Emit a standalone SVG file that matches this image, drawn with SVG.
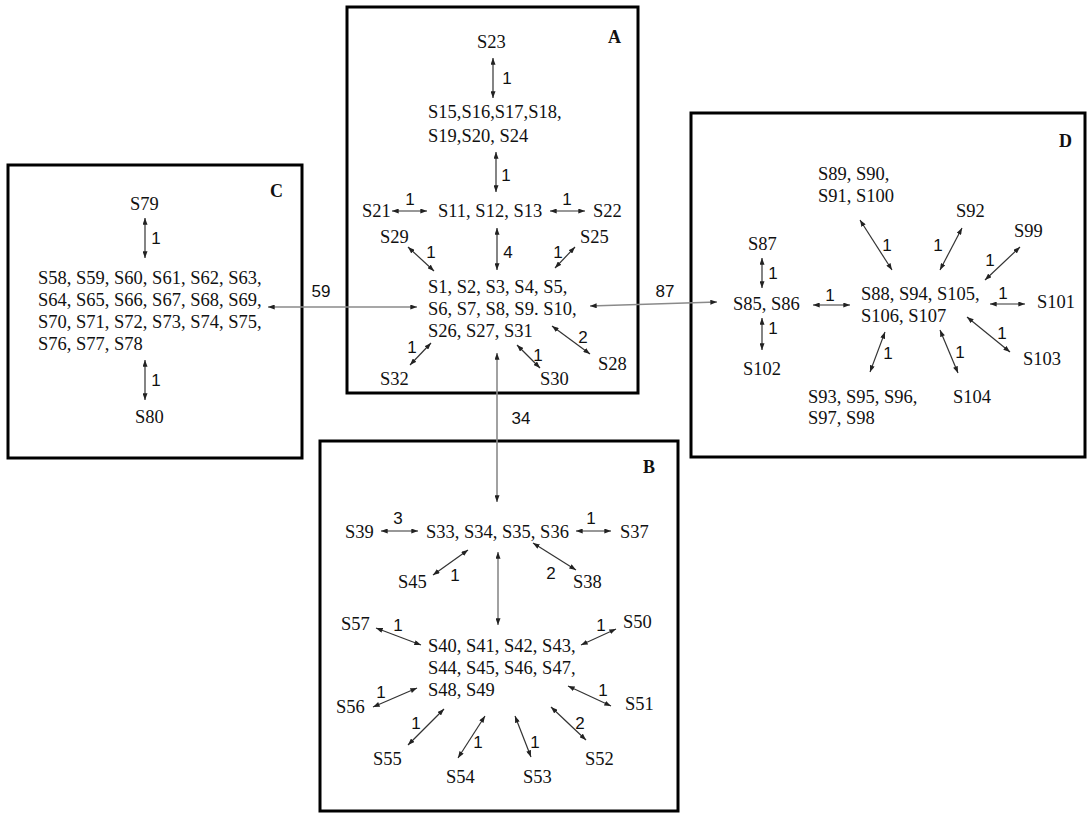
<svg xmlns="http://www.w3.org/2000/svg" width="1089" height="814" viewBox="0 0 1089 814">
<style>
.n{font-family:"Liberation Serif",serif;font-size:18.5px;fill:#111}
.t{font-family:"Liberation Serif",serif;font-size:18px;font-weight:bold;fill:#111}
.w{font-family:"Liberation Sans",sans-serif;font-size:17px;fill:#111;text-anchor:middle}
.box{fill:none;stroke:#000;stroke-width:3}
.e{stroke:#333;stroke-width:1.2;fill:none;marker-start:url(#h);marker-end:url(#h)}
.g{stroke:#8a8a8a;stroke-width:1.6;fill:none;marker-start:url(#h);marker-end:url(#h)}
</style>
<defs>
<marker id="h" viewBox="0 0 8 6" refX="8" refY="3" markerWidth="7" markerHeight="5" markerUnits="userSpaceOnUse" orient="auto-start-reverse"><path d="M0,0 L8,3 L0,6 z" fill="#222"/></marker>
</defs>
<rect width="1089" height="814" fill="#fff"/>
<g id="boxA"><rect class="box" x="347" y="7" width="291" height="386"/><text class="t" x="608" y="43">A</text></g>
<g id="boxC"><rect class="box" x="8" y="165" width="294" height="293"/><text class="t" x="270" y="197">C</text></g>
<g id="boxD"><rect class="box" x="691" y="113" width="394" height="344"/><text class="t" x="1059" y="147">D</text></g>
<g id="boxB"><rect class="box" x="320" y="441" width="358" height="370"/><text class="t" x="643" y="473">B</text></g>

<g id="nA23"><text class="n" x="477" y="48">S23</text></g>
<g id="nA15"><text class="n" x="428" y="118">S15,S16,S17,S18,</text><text class="n" x="428" y="142">S19,S20, S24</text></g>
<g id="nA21"><text class="n" x="362" y="217">S21</text></g>
<g id="nA11"><text class="n" x="438" y="217">S11, S12, S13</text></g>
<g id="nA22"><text class="n" x="593" y="217">S22</text></g>
<g id="nA29"><text class="n" x="380" y="243">S29</text></g>
<g id="nA25"><text class="n" x="580" y="243">S25</text></g>
<g id="nA1"><text class="n" x="428" y="293">S1, S2, S3, S4, S5,</text><text class="n" x="428" y="315">S6, S7, S8, S9. S10,</text><text class="n" x="428" y="337">S26, S27, S31</text></g>
<g id="nA32"><text class="n" x="380" y="385">S32</text></g>
<g id="nA30"><text class="n" x="540" y="385">S30</text></g>
<g id="nA28"><text class="n" x="598" y="370">S28</text></g>

<g id="nC79"><text class="n" x="130" y="210">S79</text></g>
<g id="nC58"><text class="n" x="38" y="284">S58, S59, S60, S61, S62, S63,</text><text class="n" x="38" y="306">S64, S65, S66, S67, S68, S69,</text><text class="n" x="38" y="328">S70, S71, S72, S73, S74, S75,</text><text class="n" x="38" y="350">S76, S77, S78</text></g>
<g id="nC80"><text class="n" x="135" y="423">S80</text></g>

<g id="nD89"><text class="n" x="818" y="180">S89, S90,</text><text class="n" x="818" y="202">S91, S100</text></g>
<g id="nD87"><text class="n" x="748" y="250">S87</text></g>
<g id="nD85"><text class="n" x="733" y="310">S85, S86</text></g>
<g id="nD102"><text class="n" x="743" y="375">S102</text></g>
<g id="nD88"><text class="n" x="861" y="300">S88, S94, S105,</text><text class="n" x="861" y="322">S106, S107</text></g>
<g id="nD92"><text class="n" x="956" y="217">S92</text></g>
<g id="nD99"><text class="n" x="1014" y="237">S99</text></g>
<g id="nD101"><text class="n" x="1037" y="308">S101</text></g>
<g id="nD103"><text class="n" x="1023" y="365">S103</text></g>
<g id="nD104"><text class="n" x="953" y="403">S104</text></g>
<g id="nD93"><text class="n" x="808" y="403">S93, S95, S96,</text><text class="n" x="808" y="424">S97, S98</text></g>

<g id="nB39"><text class="n" x="345" y="538">S39</text></g>
<g id="nB33"><text class="n" x="426" y="538">S33, S34, S35, S36</text></g>
<g id="nB37"><text class="n" x="620" y="538">S37</text></g>
<g id="nB45"><text class="n" x="398" y="588">S45</text></g>
<g id="nB38"><text class="n" x="573" y="588">S38</text></g>
<g id="nB57"><text class="n" x="341" y="630">S57</text></g>
<g id="nB50"><text class="n" x="623" y="628">S50</text></g>
<g id="nB40"><text class="n" x="428" y="652">S40, S41, S42, S43,</text><text class="n" x="428" y="674">S44, S45, S46, S47,</text><text class="n" x="428" y="696">S48, S49</text></g>
<g id="nB56"><text class="n" x="336" y="713">S56</text></g>
<g id="nB51"><text class="n" x="625" y="710">S51</text></g>
<g id="nB55"><text class="n" x="373" y="765">S55</text></g>
<g id="nB54"><text class="n" x="446" y="783">S54</text></g>
<g id="nB53"><text class="n" x="523" y="783">S53</text></g>
<g id="nB52"><text class="n" x="585" y="765">S52</text></g>

<g id="connectors">
<line class="g" x1="268" y1="307" x2="417" y2="307"/><text class="w" x="321" y="297">59</text>
<line class="g" x1="590" y1="306" x2="717" y2="302"/><text class="w" x="665" y="297">87</text>
<line class="g" x1="497" y1="353" x2="497" y2="502"/><text class="w" x="521" y="424">34</text>

<line class="e" x1="493" y1="58" x2="493" y2="98"/><text class="w" x="507" y="84">1</text>
<line class="e" x1="496" y1="152" x2="496" y2="192"/><text class="w" x="506" y="181">1</text>
<line class="e" x1="392" y1="211" x2="427" y2="211"/><text class="w" x="410" y="205">1</text>
<line class="e" x1="550" y1="211" x2="585" y2="211"/><text class="w" x="567" y="205">1</text>
<line class="e" x1="408" y1="247" x2="434" y2="271"/><text class="w" x="431" y="258">1</text>
<line class="e" x1="497" y1="228" x2="497" y2="270"/><text class="w" x="508" y="258">4</text>
<line class="e" x1="575" y1="247" x2="555" y2="268"/><text class="w" x="558" y="258">1</text>
<line class="e" x1="410" y1="365" x2="431" y2="343"/><text class="w" x="412" y="353">1</text>
<line class="e" x1="517" y1="345" x2="540" y2="368"/><text class="w" x="538" y="361">1</text>
<line class="e" x1="552" y1="326" x2="590" y2="354"/><text class="w" x="583" y="343">2</text>

<line class="e" x1="145" y1="218" x2="145" y2="258"/><text class="w" x="156" y="244">1</text>
<line class="e" x1="145" y1="360" x2="145" y2="400"/><text class="w" x="156" y="386">1</text>

<line class="e" x1="762" y1="258" x2="762" y2="288"/><text class="w" x="773" y="279">1</text>
<line class="e" x1="762" y1="318" x2="762" y2="350"/><text class="w" x="773" y="334">1</text>
<line class="e" x1="813" y1="305" x2="850" y2="305"/><text class="w" x="830" y="301">1</text>
<line class="e" x1="860" y1="220" x2="892" y2="270"/><text class="w" x="887" y="251">1</text>
<line class="e" x1="962" y1="228" x2="940" y2="270"/><text class="w" x="938" y="251">1</text>
<line class="e" x1="1020" y1="247" x2="985" y2="280"/><text class="w" x="990" y="266">1</text>
<line class="e" x1="990" y1="304" x2="1025" y2="304"/><text class="w" x="1003" y="299">1</text>
<line class="e" x1="967" y1="317" x2="1010" y2="352"/><text class="w" x="1002" y="339">1</text>
<line class="e" x1="940" y1="330" x2="958" y2="373"/><text class="w" x="960" y="358">1</text>
<line class="e" x1="885" y1="332" x2="870" y2="372"/><text class="w" x="888" y="359">1</text>

<line class="e" x1="381" y1="531" x2="418" y2="531"/><text class="w" x="398" y="524">3</text>
<line class="e" x1="576" y1="531" x2="611" y2="531"/><text class="w" x="591" y="524">1</text>
<line class="e" x1="433" y1="575" x2="468" y2="550"/><text class="w" x="455" y="581">1</text>
<line class="g" x1="498" y1="552" x2="498" y2="625"/>
<line class="e" x1="533" y1="543" x2="576" y2="570"/><text class="w" x="551" y="579">2</text>
<line class="e" x1="376" y1="628" x2="421" y2="645"/><text class="w" x="398" y="631">1</text>
<line class="e" x1="616" y1="629" x2="581" y2="645"/><text class="w" x="601" y="631">1</text>
<line class="e" x1="373" y1="707" x2="417" y2="688"/><text class="w" x="381" y="698">1</text>
<line class="e" x1="611" y1="706" x2="568" y2="686"/><text class="w" x="603" y="696">1</text>
<line class="e" x1="408" y1="745" x2="444" y2="709"/><text class="w" x="416" y="729">1</text>
<line class="e" x1="458" y1="758" x2="485" y2="716"/><text class="w" x="478" y="748">1</text>
<line class="e" x1="515" y1="716" x2="531" y2="757"/><text class="w" x="535" y="748">1</text>
<line class="e" x1="551" y1="707" x2="586" y2="740"/><text class="w" x="580" y="729">2</text>
</g>
</svg>
